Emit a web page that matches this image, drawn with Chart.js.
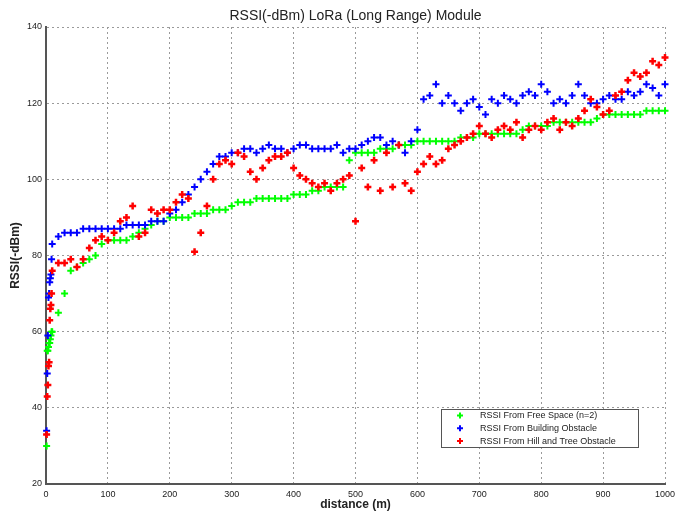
<!DOCTYPE html>
<html>
<head>
<meta charset="utf-8">
<script src="https://cdn.jsdelivr.net/npm/chart.js@4.4.1/dist/chart.umd.min.js"></script>
<style>
  html, body { margin: 0; padding: 0; background: #fff; }
  #wrap { width: 675px; height: 511px; position: relative; }
</style>
</head>
<body>
<div id="wrap"><canvas id="c" width="675" height="511"></canvas></div>
<script>
// Measurement distances in metres: 1 m steps up to 10 m, then every 10 m
const distances = [
  1, 2, 3, 4, 5, 6, 7, 8, 9, 10,
  20, 30, 40, 50, 60, 70, 80, 90, 100,
  110, 120, 130, 140, 150, 160, 170, 180, 190, 200,
  210, 220, 230, 240, 250, 260, 270, 280, 290, 300,
  310, 320, 330, 340, 350, 360, 370, 380, 390, 400,
  410, 420, 430, 440, 450, 460, 470, 480, 490, 500,
  510, 520, 530, 540, 550, 560, 570, 580, 590, 600,
  610, 620, 630, 640, 650, 660, 670, 680, 690, 700,
  710, 720, 730, 740, 750, 760, 770, 780, 790, 800,
  810, 820, 830, 840, 850, 860, 870, 880, 890, 900,
  910, 920, 930, 940, 950, 960, 970, 980, 990, 1000
];

// RSSI readings (-dBm) for each environment
const freeSpace = [
  30, 55, 55, 56, 57, 57, 58, 59, 60, 60,
  65, 70, 76, 77, 78, 79, 80, 83, 84,
  84, 84, 84, 85, 86, 87, 88, 89, 89, 90,
  90, 90, 90, 91, 91, 91, 92, 92, 92, 93,
  94, 94, 94, 95, 95, 95, 95, 95, 95, 96,
  96, 96, 97, 97, 98, 98, 98, 98, 105, 107,
  107, 107, 107, 108, 108, 108, 109, 109, 109, 110,
  110, 110, 110, 110, 110, 110, 111, 111, 111, 112,
  112, 112, 112, 112, 112, 112, 113, 114, 114, 114,
  114, 115, 115, 115, 115, 115, 115, 115, 116, 117,
  117, 117, 117, 117, 117, 117, 118, 118, 118, 118
];

const buildingObstacle = [
  34, 49, 59, 69, 70, 73, 74, 75, 79, 83,
  85, 86, 86, 86, 87, 87, 87, 87, 87,
  87, 87, 88, 88, 88, 88, 89, 89, 89, 91,
  92, 94, 96, 98, 100, 102, 104, 106, 106, 107,
  107, 108, 108, 107, 108, 109, 108, 108, 107, 108,
  109, 109, 108, 108, 108, 108, 109, 107, 108, 108,
  109, 110, 111, 111, 109, 110, 109, 107, 110, 113,
  121, 122, 125, 120, 122, 120, 118, 120, 121, 119,
  117, 121, 120, 122, 121, 120, 122, 123, 122, 125,
  123, 120, 121, 120, 122, 125, 122, 120, 120, 121,
  122, 121, 121, 123, 122, 123, 125, 124, 122, 125
];

const hillTreeObstacle = [
  33, 43, 46, 51, 52, 63, 66, 67, 70, 76,
  78, 78, 79, 77, 79, 82, 84, 85, 84,
  86, 89, 90, 93, 85, 86, 92, 91, 92, 92,
  94, 96, 95, 81, 86, 93, 100, 104, 105, 104,
  107, 106, 102, 100, 103, 105, 106, 106, 107, 103,
  101, 100, 99, 98, 99, 97, 99, 100, 101, 89,
  103, 98, 105, 97, 107, 98, 109, 99, 97, 102,
  104, 106, 104, 105, 108, 109, 110, 111, 112, 114,
  112, 111, 113, 114, 113, 115, 111, 113, 114, 113,
  115, 116, 113, 115, 114, 116, 118, 121, 119, 117,
  118, 122, 123, 126, 128, 127, 128, 131, 130, 132
];

const seriesNames = [
  'RSSI From Free Space (n=2)',
  'RSSI From Building Obstacle',
  'RSSI From Hill and Tree Obstacle'
];
const seriesColors = ['#00ff00', '#0000ff', '#ff0000'];

const xTicks = [0, 100, 200, 300, 400, 500, 600, 700, 800, 900, 1000];
const yTicks = [20, 40, 60, 80, 100, 120, 140];

const FONT = "'Liberation Sans', Arial, Helvetica, sans-serif";

function toPoints(values) {
  return values.map((v, i) => ({ x: distances[i], y: v }));
}

// Boxed legend drawn in the lower-right corner of the plot area
const insideLegend = {
  id: 'insideLegend',
  afterDatasetsDraw(chart) {
    const { ctx, chartArea } = chart;
    const w = 197, h = 38;
    const left = chartArea.right - 27 - w;
    const top = chartArea.bottom - 37 - h;
    ctx.save();
    ctx.fillStyle = '#ffffff';
    ctx.fillRect(left, top, w, h);
    ctx.strokeStyle = '#555555';
    ctx.lineWidth = 1;
    ctx.strokeRect(left + 0.5, top + 0.5, w, h);
    ctx.font = '9px ' + FONT;
    ctx.textBaseline = 'middle';
    ctx.textAlign = 'left';
    seriesNames.forEach((name, i) => {
      const cy = top + 6.5 + i * 12.7;
      const cx = left + 19;
      ctx.strokeStyle = seriesColors[i];
      ctx.lineWidth = 2;
      ctx.beginPath();
      ctx.moveTo(cx - 3, cy); ctx.lineTo(cx + 3, cy);
      ctx.moveTo(cx, cy - 3); ctx.lineTo(cx, cy + 3);
      ctx.stroke();
      ctx.fillStyle = '#222222';
      ctx.fillText(name, left + 39, cy + 0.5);
    });
    ctx.restore();
  }
};

const datasets = [freeSpace, buildingObstacle, hillTreeObstacle].map((vals, i) => ({
  label: seriesNames[i],
  data: toPoints(vals),
  pointStyle: 'cross',
  pointRadius: 3.5,
  pointHoverRadius: 3.5,
  pointBorderWidth: i === 2 ? 2.5 : 2,
  borderColor: seriesColors[i],
  backgroundColor: seriesColors[i],
  showLine: false,
  clip: false,
  order: 3 - i
}));

new Chart(document.getElementById('c'), {
  type: 'scatter',
  data: { datasets },
  plugins: [insideLegend],
  options: {
    responsive: false,
    devicePixelRatio: 1,
    animation: false,
    events: [],
    layout: { padding: { left: 0, right: 10, top: 0, bottom: 0 } },
    plugins: {
      legend: { display: false },
      tooltip: { enabled: false },
      title: {
        display: true,
        text: 'RSSI(-dBm) LoRa (Long Range) Module',
        fullSize: false,
        color: '#222',
        font: { family: FONT, size: 14, weight: 'normal', lineHeight: 1.2 },
        padding: { top: 8, bottom: 2.2 }
      }
    },
    scales: {
      x: {
        type: 'linear',
        min: 0,
        max: 1000,
        afterBuildTicks(scale) { scale.ticks = xTicks.map(v => ({ value: v })); },
        afterFit(scale) {
          scale.height = 27;
          scale.paddingLeft = 0;
          scale.paddingRight = 0;
        },
        ticks: {
          color: '#222', padding: 5, font: { family: FONT, size: 9 },
          callback: (v) => String(v)
        },
        grid: { color: '#9a9a9a', lineWidth: 1, drawTicks: false },
        border: { display: true, color: '#555', width: 2, dash: [2, 3] },
        title: {
          display: true,
          text: 'distance (m)',
          color: '#222',
          font: { family: FONT, size: 12, weight: 'bold', lineHeight: 1.0 },
          padding: { top: 0, bottom: 0 }
        }
      },
      y: {
        type: 'linear',
        min: 20,
        max: 140,
        afterBuildTicks(scale) { scale.ticks = yTicks.map(v => ({ value: v })); },
        afterFit(scale) {
          scale.width = 46;
          scale.paddingTop = 0;
          scale.paddingBottom = 0;
        },
        ticks: {
          color: '#222', padding: 4, font: { family: FONT, size: 9 },
          callback: (v) => String(v)
        },
        grid: { color: '#9a9a9a', lineWidth: 1, drawTicks: false },
        border: { display: true, color: '#555', width: 2, dash: [2, 3] },
        title: {
          display: true,
          text: 'RSSI(-dBm)',
          color: '#222',
          font: { family: FONT, size: 12, weight: 'bold', lineHeight: 1.2 },
          padding: { top: 8, bottom: 0 }
        }
      }
    }
  }
});
</script>
</body>
</html>
